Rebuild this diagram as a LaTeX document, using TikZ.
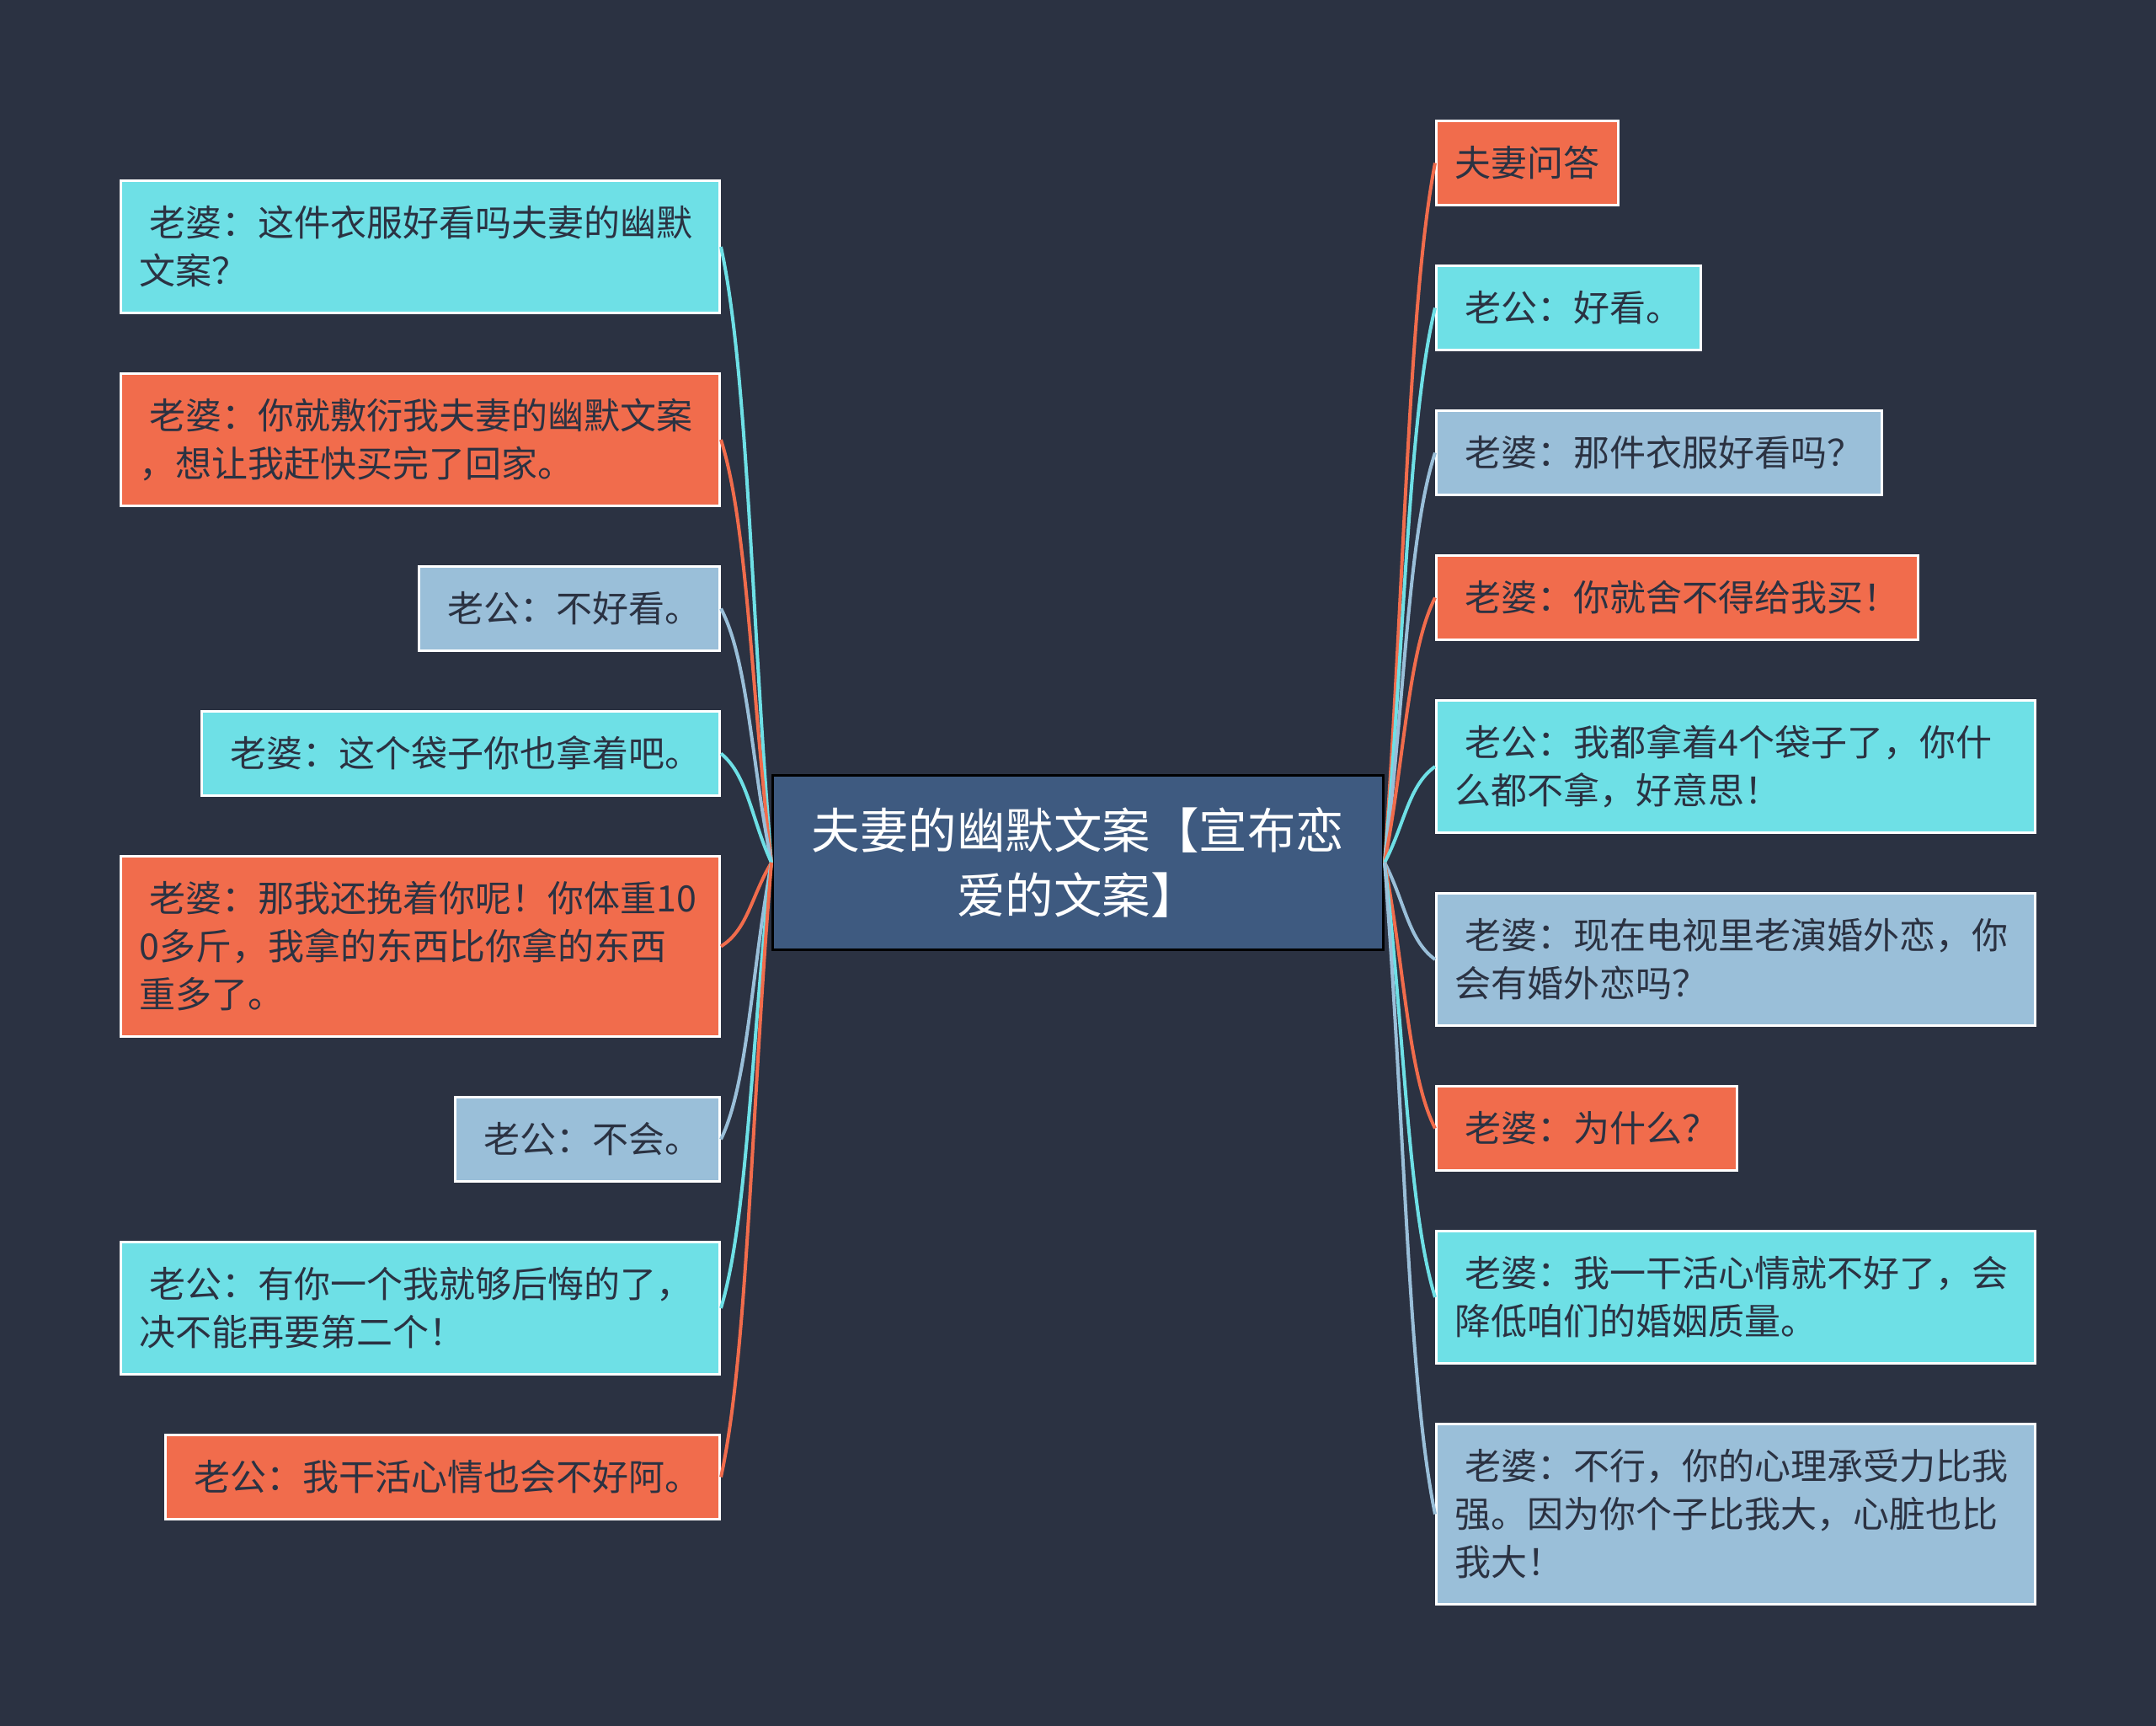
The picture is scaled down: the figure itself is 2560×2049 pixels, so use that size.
\documentclass[tikz,border=0pt]{standalone}
\usepackage{fontspec}
\setmainfont{Noto Sans CJK SC}
\usetikzlibrary{calc,positioning}
\definecolor{slate}{HTML}{2B3242}
\definecolor{navy}{HTML}{3E5A80}
\definecolor{aqua}{HTML}{6EE0E6}
\definecolor{coral}{HTML}{F16C4C}
\definecolor{steel}{HTML}{9ABFD9}
\tikzset{%
  x=1pt, y=-1pt,
  node distance=69pt, % gap between two boxes of a column
  topic/.style={draw=black, fill=navy, line width=3pt, text=white, align=center,
    font=\fontsize{57.5}{77}\selectfont, minimum width=725pt, minimum height=207pt},
  talk/.style={draw=white, line width=3pt, text=slate, align=left, inner xsep=22pt, inner ysep=6pt,
    font=\fontsize{43}{57}\selectfont, minimum height=100pt},
  twolines/.style={text width=667pt, minimum height=157pt},
  threelines/.style={text width=667pt, minimum height=214pt},
  aquabox/.style={talk, fill=aqua},
  coralbox/.style={talk, fill=coral},
  steelbox/.style={talk, fill=steel},
  link/.style={line width=4pt}
}
\newcommand{\toprow}{\rule[-17pt]{0pt}{66pt}}
\newcommand{\lead}{\toprow\hspace*{12pt}}

\begin{document}
\begin{tikzpicture}
  \fill[slate] (0,0) rectangle (2560,2049);
  \node[topic] (hub) at (1280,1024) {夫妻的幽默文案【宣布恋\\爱的文案】};
  % left column
  \node[aquabox, twolines, anchor=north east] (l1) at (856,213) {\lead 老婆：这件衣服好看吗夫妻的幽默\\\strut 文案？};
  \node[coralbox, twolines, below=of l1.south east, anchor=north east] (l2) {\lead 老婆：你就敷衍我夫妻的幽默文案\\\strut ，想让我赶快买完了回家。};
  \node[steelbox, below=of l2.south east, anchor=north east] (l3) {\lead 老公：不好看。};
  \node[aquabox, below=of l3.south east, anchor=north east] (l4) {\lead 老婆：这个袋子你也拿着吧。};
  \node[coralbox, threelines, below=of l4.south east, anchor=north east] (l5) {\lead 老婆：那我还挽着你呢！你体重10\\\strut 0多斤，我拿的东西比你拿的东西\\\strut 重多了。};
  \node[steelbox, below=of l5.south east, anchor=north east] (l6) {\lead 老公：不会。};
  \node[aquabox, twolines, below=of l6.south east, anchor=north east] (l7) {\lead 老公：有你一个我就够后悔的了，\\\strut 决不能再要第二个！};
  \node[coralbox, below=of l7.south east, anchor=north east] (l8) {\lead 老公：我干活心情也会不好阿。};
  % right column
  \node[coralbox, anchor=north west] (r1) at (1704,142) {\toprow 夫妻问答};
  \node[aquabox, below=of r1.south west, anchor=north west] (r2) {\lead 老公：好看。};
  \node[steelbox, below=of r2.south west, anchor=north west] (r3) {\lead 老婆：那件衣服好看吗？};
  \node[coralbox, below=of r3.south west, anchor=north west] (r4) {\lead 老婆：你就舍不得给我买！};
  \node[aquabox, twolines, below=of r4.south west, anchor=north west] (r5) {\lead 老公：我都拿着4个袋子了，你什\\\strut 么都不拿，好意思！};
  \node[steelbox, twolines, below=of r5.south west, anchor=north west] (r6) {\lead 老婆：现在电视里老演婚外恋，你\\\strut 会有婚外恋吗？};
  \node[coralbox, below=of r6.south west, anchor=north west] (r7) {\lead 老婆：为什么？};
  \node[aquabox, twolines, below=of r7.south west, anchor=north west] (r8) {\lead 老婆：我一干活心情就不好了，会\\\strut 降低咱们的婚姻质量。};
  \node[steelbox, threelines, below=of r8.south west, anchor=north west] (r9) {\lead 老婆：不行，你的心理承受力比我\\\strut 强。因为你个子比我大，心脏也比\\\strut 我大！};
  % links
  \foreach \n/\c in {l1/aqua, l2/coral, l3/steel, l4/aqua, l5/coral, l6/steel, l7/aqua, l8/coral}
    \draw[link, \c] (hub.west) .. controls ($(hub.west)!.4!(\n.east)$) and ($(\n.east)!.2!(hub.west)+(20,0)$) .. (\n.east);
  \foreach \n/\c in {r1/coral, r2/aqua, r3/steel, r4/coral, r5/aqua, r6/steel, r7/coral, r8/aqua, r9/steel}
    \draw[link, \c] (hub.east) .. controls ($(hub.east)!.4!(\n.west)$) and ($(\n.west)!.2!(hub.east)+(-20,0)$) .. (\n.west);
\end{tikzpicture}
\end{document}
